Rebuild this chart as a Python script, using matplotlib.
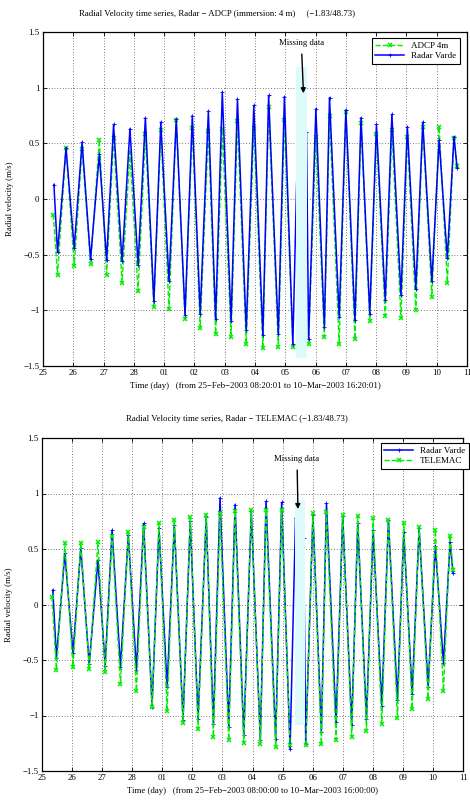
import numpy as np
import matplotlib
matplotlib.use("Agg")
import matplotlib.pyplot as plt

plt.rcParams['font.family'] = ['Liberation Serif', 'DejaVu Serif']
plt.rcParams['font.size'] = 6.3

# time axis: days counted from 1 Feb 2003 (29 = 01 Mar)
day_ticks = list(range(25, 40))
day_labels = ['25', '26', '27', '28', '01', '02', '03', '04', '05', '06',
              '07', '08', '09', '10', '11']

# times of flood peaks and ebb troughs (day)
t_hi = [25.76, 26.29, 26.86, 27.33, 27.87, 28.38, 28.89, 29.40, 29.93, 30.46,
        30.92, 31.42, 31.96, 32.45, 32.97, 33.50, 34.01, 34.46, 35.00, 35.50,
        36.01, 36.52, 37.03, 37.54, 38.08, 38.57]
t_lo = [25.48, 26.03, 26.57, 27.10, 27.61, 28.14, 28.66, 29.16, 29.69, 30.19,
        30.70, 31.21, 31.71, 32.26, 32.77, 33.25, 33.77, 34.29, 34.78, 35.30,
        35.79, 36.30, 36.82, 37.31, 37.84, 38.35]

nan = np.nan
# Radar Varde (m/s)
radar_hi = [0.46, 0.51, 0.40, 0.67, 0.63, 0.73, 0.69, 0.72, 0.75, 0.79,
            0.96, 0.90, 0.84, 0.93, 0.92, nan, 0.81, 0.91, 0.80, 0.73,
            0.67, 0.76, 0.65, 0.69, 0.53, 0.56]
radar_lo = [-0.48, -0.44, -0.54, -0.55, -0.56, -0.59, -0.92, -0.74, -1.04, -1.03,
            -1.08, -1.10, -1.18, -1.22, -1.21, -1.30, -1.26, -1.15, -1.06, -1.09,
            -1.03, -0.91, -0.86, -0.81, -0.74, -0.53]
radar_ends_t = [25.36, 33.43, 33.70, 38.67]
radar_ends_v = [0.13, 0.78, 0.60, 0.28]

# ADCP 4m (m/s)
adcp_hi = [0.46, 0.45, 0.53, 0.55, 0.42, 0.58, 0.62, 0.71, 0.64, 0.61,
           0.63, 0.70, 0.64, 0.83, 0.71, nan, 0.56, 0.75, 0.78, 0.68,
           0.58, 0.62, 0.56, 0.65, 0.65, 0.55]
adcp_lo = [-0.68, -0.60, -0.58, -0.68, -0.75, -0.83, -0.97, -0.99, -1.08, -1.16,
           -1.21, -1.24, -1.30, -1.34, -1.33, -1.33, -1.30, -1.24, -1.30, -1.26,
           -1.10, -1.05, -1.07, -1.00, -0.88, -0.75]
adcp_ends_t = [25.34, 38.68]
adcp_ends_v = [-0.14, 0.30]

# TELEMAC (m/s)
tel_hi = [0.55, 0.55, 0.56, 0.62, 0.65, 0.70, 0.73, 0.76, 0.79, 0.81,
          0.82, 0.84, 0.85, 0.85, 0.85, nan, 0.82, 0.83, 0.81, 0.80,
          0.78, 0.76, 0.73, 0.70, 0.67, 0.62]
tel_lo = [-0.59, -0.56, -0.58, -0.61, -0.72, -0.78, -0.92, -0.96, -1.07, -1.12,
          -1.19, -1.22, -1.25, -1.26, -1.28, -1.27, -1.27, -1.26, -1.22, -1.19,
          -1.14, -1.08, -1.02, -0.94, -0.85, -0.78]
tel_ends_t = [25.33, 38.67]
tel_ends_v = [0.07, 0.31]


def series(hi, lo, ends_t, ends_v):
    t = np.array(t_hi + t_lo + ends_t)
    v = np.array(hi + lo + ends_v)
    o = np.argsort(t)
    return t[o], v[o]


t_rad, v_rad = series(radar_hi, radar_lo, radar_ends_t, radar_ends_v)
t_adcp, v_adcp = series(adcp_hi, adcp_lo, adcp_ends_t, adcp_ends_v)
t_tel, v_tel = series(tel_hi, tel_lo, tel_ends_t, tel_ends_v)

BLUE = "#0000ff"
GREEN = "#00ee00"
BAND = "#ddfbfb"

fig = plt.figure(figsize=(4.7, 8), dpi=100)
ax1 = fig.add_axes([43 / 470, 1 - 366 / 800, 424 / 470, 334 / 800])
ax2 = fig.add_axes([42 / 470, 1 - 771 / 800, 421 / 470, 333 / 800])


def style(ax):
    ax.set_xlim(25, 39)
    ax.set_ylim(-1.5, 1.5)
    ax.set_xticks(day_ticks)
    ax.set_xticklabels(day_labels)
    ax.set_yticks([-1.5, -1, -0.5, 0, 0.5, 1, 1.5])
    ax.set_yticklabels(['\u22121.5', '\u22121', '\u22120.5', '0', '0.5', '1', '1.5'])
    ax.tick_params(direction='in', top=True, right=True, length=3, width=0.6,
                   pad=2.5, labelsize=6.3)
    ax.grid(True, color='k', linestyle=(0, (1, 3)), linewidth=0.5)
    ax.set_axisbelow(True)
    for s in ax.spines.values():
        s.set_linewidth(0.9)
    ax.set_ylabel('Radial velocity (m/s)', fontsize=6.3, labelpad=7)


# top panel: Radar vs ADCP
style(ax1)
ax1.plot(t_adcp, v_adcp, color=GREEN, ls='--', lw=1.0, marker='x', ms=3.4,
         mew=1.1, label='ADCP 4m', zorder=2)
ax1.plot(t_rad, v_rad, color=BLUE, ls='-', lw=1.1, marker='+', ms=2.5,
         mew=0.6, label='Radar Varde', zorder=3)
ax1.fill_between([33.37, 33.73], -1.43, 1.19, color=BAND, lw=0, zorder=4)
ax1.annotate('Missing data', xy=(33.60, 0.95), xytext=(33.53, 1.40),
             ha='center', va='center', fontsize=6.3, zorder=6,
             arrowprops=dict(arrowstyle='-|>', color='k', lw=1.0,
                             mutation_scale=7, shrinkA=3, shrinkB=0))
ax1.legend(loc='upper right', bbox_to_anchor=(460 / 470, 1 - 38 / 800),
           bbox_transform=fig.transFigure, borderaxespad=0, fancybox=False,
           edgecolor='k', framealpha=1, fontsize=6.5, handlelength=3.2,
           borderpad=0.4, labelspacing=0.2).get_frame().set_linewidth(0.8)
ax1.set_xlabel('Time (day)   (from 25\u2212Feb\u22122003 08:20:01 to 10\u2212Mar\u22122003 16:20:01)',
               fontsize=6.3, labelpad=3)
fig.text(217 / 470, 1 - 14 / 800,
         'Radial Velocity time series, Radar \u2212 ADCP (immersion: 4 m)     (\u22121.83/48.73)',
         ha='center', va='center', fontsize=6.3)

# bottom panel: Radar vs TELEMAC
style(ax2)
ax2.plot(t_rad, v_rad, color=BLUE, ls='-', lw=1.1, marker='+', ms=2.5,
         mew=0.6, label='Radar Varde', zorder=2)
ax2.plot(t_tel, v_tel, color=GREEN, ls='--', lw=1.0, marker='x', ms=3.4,
         mew=1.1, label='TELEMAC', zorder=3)
ax2.fill_between([33.41, 33.75], -1.09, 0.94, color=BAND, lw=0, zorder=4)
ax2.annotate('Missing data', xy=(33.51, 0.86), xytext=(33.48, 1.31),
             ha='center', va='center', fontsize=6.3, zorder=6,
             arrowprops=dict(arrowstyle='-|>', color='k', lw=1.0,
                             mutation_scale=7, shrinkA=3, shrinkB=0))
ax2.legend(loc='upper right', bbox_to_anchor=(469 / 470, 1 - 443 / 800),
           bbox_transform=fig.transFigure, borderaxespad=0, fancybox=False,
           edgecolor='k', framealpha=1, fontsize=6.5, handlelength=3.2,
           borderpad=0.4, labelspacing=0.2).get_frame().set_linewidth(0.8)
ax2.set_xlabel('Time (day)   (from 25\u2212Feb\u22122003 08:00:00 to 10\u2212Mar\u22122003 16:00:00)',
               fontsize=6.3, labelpad=3)
fig.text(237 / 470, 1 - 419 / 800,
         'Radial Velocity time series, Radar \u2212 TELEMAC (\u22121.83/48.73)',
         ha='center', va='center', fontsize=6.3)

fig.savefig('out.png', dpi=100)
